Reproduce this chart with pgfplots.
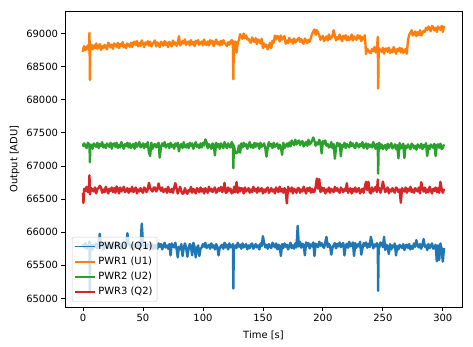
\documentclass[border=0pt]{standalone}
\usepackage{fontspec}
\setmainfont{DejaVu Sans}
\usepackage{pgfplots}
\usepackage{pgfplotstable}
\pgfplotsset{compat=1.18}
\definecolor{c0}{HTML}{1F77B4}
\definecolor{c1}{HTML}{FF7F0E}
\definecolor{c2}{HTML}{2CA02C}
\definecolor{c3}{HTML}{D62728}
\pgfplotstableread{
t p0 p1 p2 p3
0 65820 68720 67290 66595
0.4 65800 68780 67330 66440
1 65770 68810 67340 66655
2 65830 68750 67300 66625
3 65750 68780 67270 66685
4 65800 68820 67350 66605
5 65760 68740 67330 66645
5.4 65860 69010 67330 66860
5.8 65080 68300 67055 66570
6 65840 68790 67280 66595
7 65790 68830 67320 66665
8 65740 68760 67260 66635
9 65810 68820 67340 66615
10 65780 68780 67310 66675
11 65830 68850 67290 66585
12 65760 68770 67350 66655
13 65820 68800 67270 66665
14 65975 68840 67330 66700
15 65790 68750 67300 66675
16 65810 68810 67360 66595
17 65740 68780 67280 66645
18 65830 68830 67320 66605
19 65770 68790 67270 66685
20 65800 68760 67340 66635
21 65840 68860 67310 66585
22 65760 68840 67290 66655
23 65780 68790 67350 66625
24 65820 68830 67260 66675
25 65750 68770 67330 66605
26 65810 68850 67340 66665
27 65770 68820 67290 66595
28 65840 68800 67350 66690
29 65760 68860 67270 66655
30 65790 68780 67320 66585
31 65830 68840 67280 66675
32 65740 68810 67360 66615
33 65800 68870 67310 66645
34 65770 68790 67260 66685
35 65820 68830 67330 66605
36 65780 68780 67300 66625
37 65985 68850 67350 66665
38 65830 68820 67280 66595
39 65810 68800 67340 66655
40 65760 68860 67270 66615
41 65800 68795 67310 66685
42 65740 68865 67330 66605
43 65820 68875 67260 66635
44 65790 68825 67350 66675
45 65770 68885 67290 66585
46 65830 68805 67320 66645
47 65750 68855 67360 66615
48 65810 68815 67280 66665
49 66130 68895 67300 66625
50 65840 68845 67340 66595
51 65760 68795 67270 66675
52 65800 68865 67330 66655
53 65750 68835 67290 66605
54 65820 68885 67360 66645
55 65790 68815 67200 66745
56 65770 68875 67150 66665
57 65830 68805 67350 66635
58 65740 68845 67260 66615
59 65810 68865 67320 66675
60 65760 68895 67330 66675
61 65810 68805 67280 66615
62 65750 68865 67320 66645
63 65830 68835 67350 66735
64 65780 68795 67125 66665
65 65820 68875 67290 66625
66 65740 68855 67340 66675
67 65790 68815 67300 66605
68 65840 68885 67360 66635
69 65770 68825 67280 66655
70 65800 68865 67310 66595
71 65750 68795 67330 66685
72 65820 68875 67270 66615
73 65650 68845 67350 66605
74 65830 68805 67290 66655
75 65790 68895 67320 66595
76 65770 68835 67260 66675
77 65840 68865 67340 66740
78 65750 68815 67300 66665
79 65620 68855 67350 66585
80 65780 68960 67220 66635
81 65740 68820 67310 66685
82 65820 68840 67330 66615
83 65640 68890 67270 66580
84 65760 68850 67360 66595
85 65830 68910 67290 66665
86 65770 68830 67280 66605
87 65630 68860 67330 66580
88 65740 68880 67270 66635
89 65820 68820 67350 66615
90 65790 68900 67300 66685
91 65650 68840 67340 66595
92 65840 68870 67260 66655
93 65780 68810 67310 66625
94 65620 68890 67360 66585
95 65760 68850 67290 66665
96 65800 68900 67320 66645
97 65640 68830 67270 66605
98 65750 68860 67340 66675
99 65770 68880 67280 66615
100 65820 68820 67350 66655
101 65780 68910 67310 66585
102 65840 68840 67400 66665
103 65760 68830 67360 66635
104 65790 68880 67270 66595
105 65810 68820 67330 66685
106 65750 68900 67300 66625
107 65830 68850 67260 66655
108 65770 68890 67340 66605
109 65800 68810 67320 66645
110 65740 68860 67160 66675
111 65820 68910 67350 66595
112 65780 68840 67290 66615
113 65650 68870 67330 66665
114 65760 68820 67260 66625
115 65790 68890 67340 66685
116 65810 68830 67310 66605
117 65750 68900 67270 66635
118 65840 68860 67360 66745
119 65770 68840 67300 66595
120 65810 68810 67270 66605
121 65740 68870 67340 66675
122 65830 68830 67300 66625
123 65770 68880 67280 66655
124 65790 68900 67360 66585
125 65820 68820 67320 66635
125.4 65150 68310 66965 66600
125.7 65790 68880 67310 66650
126 65750 68840 67290 66685
127 65800 68880 67200 66605
128 65760 68710 67190 66755
129 65840 68860 67210 66595
130 65780 68900 67310 66675
131 65810 68990 67200 66615
132 65750 68950 67340 66665
133 65830 68920 67280 66655
134 65770 69000 67350 66585
135 65790 68930 67300 66675
136 65820 68970 67330 66615
137 65740 68910 67260 66635
138 65800 68920 67310 66665
139 65760 68880 67360 66595
140 65810 68860 67280 66645
141 65830 68940 67320 66605
142 65750 68900 67270 66685
143 65780 68870 67350 66625
144 65820 68930 67290 66655
145 65770 68840 67340 66595
146 65800 68910 67330 66675
147 65740 68890 67260 66615
148 65830 68850 67350 66635
149 65790 68920 67290 66665
150 65940 68780 67310 66585
151 65840 68850 67340 66645
152 65770 68800 67270 66605
153 65810 68830 67140 66655
154 65750 68760 67280 66675
155 65820 68810 67360 66595
156 65780 68860 67300 66625
157 65760 68780 67330 66665
158 65840 68890 67270 66615
159 65800 68860 67350 66645
160 65770 68970 67290 66585
161 65830 68910 67310 66675
162 65740 68960 67340 66635
163 65810 68950 67260 66605
164 65790 68880 67320 66685
165 65640 68970 67280 66615
166 65820 68910 67170 66655
167 65760 68930 67350 66595
168 65830 68960 67270 66665
169 65780 68845 67300 66625
170 65810 68895 67340 66435
171 65740 68855 67290 66685
172 65790 68935 67355 66645
173 65840 68875 67295 66615
174 65760 68905 67385 66675
175 65800 68845 67345 66585
176 65750 68925 67315 66655
177 65830 68865 67395 66635
178 65770 68885 67325 66595
179 66095 68915 67365 66665
180 65785 68935 67385 66665
181 65855 68875 67315 66595
182 65765 68915 67355 66645
183 65825 68865 67375 66615
184 65805 68845 67295 66685
185 65650 68925 67335 66635
186 65845 68895 67365 66585
187 65795 68855 67305 66665
188 65835 68905 67395 66625
189 65755 68875 67325 66675
190 65815 68935 67345 66595
191 65785 68990 67385 66655
192 65845 69030 67430 66605
193 65640 69060 67375 66615
194 65825 68980 67305 66685
195 65805 69050 67355 66810
196 65775 69010 67325 66655
197 65855 68975 67395 66800
198 65795 68905 67345 66605
199 65835 68945 67190 66675
200 65785 68965 67375 66625
201 65765 68885 67335 66665
202 65845 68925 67385 66585
203 65930 68955 67305 66645
204 65775 68895 67330 66615
205 65825 68985 67280 66675
206 65795 68915 67290 66595
207 65660 68935 67360 66655
208 65765 68975 67270 66635
209 65805 69050 67330 66605
210 65835 68965 67110 66685
211 65755 68895 67280 66625
212 65825 68945 67350 66665
213 65785 68915 67300 66615
214 65845 68985 67340 66595
215 65775 68935 67145 66675
216 65815 68885 67320 66645
217 65835 68965 67290 66605
218 65650 68925 67350 66655
219 65795 68975 67270 66625
220 65825 68895 67330 66740
221 65765 68955 67310 66595
222 65855 68905 67280 66635
223 65785 68915 67360 66665
224 65805 68985 67300 66585
225 65845 68895 67340 66655
226 65640 68955 67290 66615
227 65835 68935 67270 66675
228 65765 68905 67350 66605
229 65815 68975 67320 66645
230 65785 68925 67280 66665
231 65855 68965 67330 66585
232 65660 68885 67300 66625
233 65755 68945 67360 66655
234 65835 68915 67270 66595
235 65795 68975 67310 66685
236 65845 68690 67340 66760
237 65765 68765 67260 66635
238 65825 68745 67330 66760
239 65775 68715 67290 66605
240 65930 68705 67320 66585
241 65845 68765 67280 66675
242 65755 68735 67360 66615
243 65815 68795 67310 66645
244 65785 68715 67260 66685
245 65835 68755 67330 66605
245.8 65800 68950 67320 66795
246.1 65115 68170 66885 66640
246.5 65790 68740 67300 66650
247 65765 68775 67350 66665
248 65845 68745 67265 66595
249 65825 68725 67325 66655
250 65775 68785 67255 66765
251 65930 68695 67295 66685
252 65730 68765 67315 66605
253 65810 68775 67245 66635
254 65780 68725 67335 66675
255 65670 68785 67275 66585
256 65820 68705 67305 66645
257 65740 68755 67345 66615
258 65800 68715 67265 66665
259 65770 68795 67285 66625
260 65830 68745 67325 66595
261 65650 68695 67255 66675
262 65790 68765 67315 66655
263 65740 68735 67115 66605
264 65810 68785 67345 66645
265 65780 68715 67265 66445
266 65760 68775 67295 66665
267 65820 68705 67335 66635
268 65730 68745 67120 66615
269 65800 68765 67305 66675
270 65810 68695 67275 66595
271 65760 68900 67325 66655
272 65820 68980 67285 66625
273 65740 69010 67255 66685
274 65790 69050 67335 66605
275 65750 68970 67315 66645
276 65830 68990 67265 66595
277 65780 69030 67305 66665
278 65880 68960 67245 66635
279 65800 69020 67325 66615
280 65770 68980 67295 66675
281 65820 69050 67275 66585
282 65750 68970 67335 66755
283 65810 69000 67255 66665
284 65895 69040 67315 66615
285 65780 69025 67285 66675
286 65800 69085 67345 66595
287 65730 69055 67150 66645
288 65820 69105 67305 66605
289 65760 69065 67255 66685
290 65790 69035 67325 66635
291 65830 69115 67295 66585
292 65750 69095 67275 66655
293 65770 69045 67335 66625
294 65810 69085 67150 66675
295 65560 69025 67315 66605
296 65800 69105 67325 66665
297 65580 69075 67275 66595
298 65830 69055 67335 66760
299 65750 69115 67255 66655
300 65555 69025 67275 66595
301 65760 69115 67325 66655
}\datatable
\begin{document}
\begin{tikzpicture}
\begin{axis}[
  scale only axis,
  width=397bp, height=296bp,
  xmin=-15, xmax=316, ymin=64870, ymax=69340,
  xtick={0,50,...,300},
  ytick={65000,65500,...,69000},
  scaled y ticks=false,
  y tick label style={/pgf/number format/.cd,1000 sep={}},
  /pgf/number format/assume math mode=true,
  tick align=outside,
  major tick length=3.5bp,
  every tick/.style={line width=0.8bp, black},
  axis line style={line width=0.8bp},
  xtick pos=bottom, ytick pos=left,
  font=\fontsize{10}{12}\selectfont,
  xlabel={Time [s]}, ylabel={Output [ADU]},
  xlabel style={yshift=-3bp},
  legend cell align=left,
  legend style={at={(0.0176,0.018)}, anchor=south west, draw=black!20, rounded corners=2bp,
    fill=white, fill opacity=0.8, text opacity=1,
    inner sep=2bp, row sep=0bp,
    nodes={inner sep=2.55bp, text height=7.5bp, text depth=2.5bp}},
  legend image code/.code={\draw[#1, line width=1.6bp, opacity=1] (0bp,0bp) -- (20bp,0bp);},
  every axis plot/.append style={line width=2.4bp, line join=round},
]
\addplot[c0] table[x=t, y=p0] {\datatable};
\addplot[c1] table[x=t, y=p1] {\datatable};
\addplot[c2] table[x=t, y=p2] {\datatable};
\addplot[c3] table[x=t, y=p3] {\datatable};
\legend{PWR0 (Q1), PWR1 (U1), PWR2 (U2), PWR3 (Q2)}
\end{axis}
\path ([shift={(-65bp,-40bp)}]current axis.south west) rectangle ([shift={(11bp,11bp)}]current axis.north east);
\end{tikzpicture}
\end{document}
